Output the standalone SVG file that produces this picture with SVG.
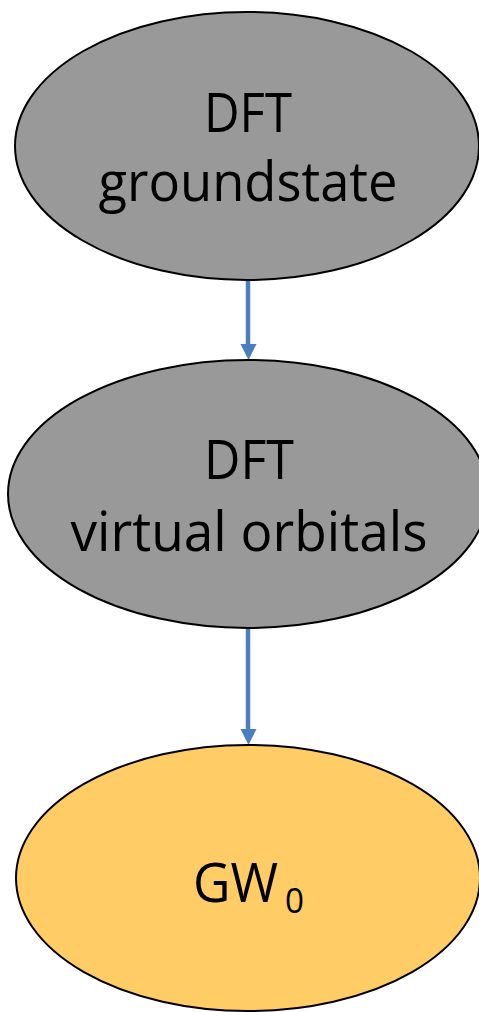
<svg xmlns="http://www.w3.org/2000/svg" width="479" height="1012" viewBox="0 0 479 1012">
<style>
.node{stroke:#000;stroke-width:2}
.gray{fill:#999999}
.gold{fill:#FFCC66}
.lbl{font-family:"Open Sans","Noto Sans",sans-serif;font-size:54px;fill:#000;text-anchor:middle}
.edge{stroke:#4A7EBF;stroke-width:4.5;fill:none}
.head{fill:#4A7EBF}
</style>
<rect width="479" height="1012" fill="#fff"/>
<g id="connectors">
<line class="edge" x1="248" y1="281" x2="248" y2="345"/>
<polygon class="head" points="240.5,344 256.5,344 248.5,360"/>
<line class="edge" x1="248" y1="629" x2="248" y2="730"/>
<polygon class="head" points="240.5,729 256.5,729 248.5,745"/>
</g>
<g id="node-dft-groundstate">
<ellipse class="node gray" cx="247" cy="146" rx="232" ry="134"/>
<text class="lbl" x="248" y="132" textLength="88" lengthAdjust="spacingAndGlyphs">DFT</text>
<text class="lbl" x="248" y="201" textLength="299" lengthAdjust="spacingAndGlyphs">groundstate</text>
</g>
<g id="node-dft-virtual">
<ellipse class="node gray" cx="248" cy="494" rx="240" ry="134"/>
<text class="lbl" x="249" y="479" textLength="90" lengthAdjust="spacingAndGlyphs">DFT</text>
<text class="lbl" x="249" y="551" textLength="357" lengthAdjust="spacingAndGlyphs">virtual orbitals</text>
</g>
<g id="node-gw0">
<ellipse class="node gold" cx="248" cy="878" rx="232" ry="133"/>
<text class="lbl" x="235.5" y="902" textLength="85" lengthAdjust="spacingAndGlyphs">GW</text>
<text class="lbl" x="294.5" y="913" style="font-size:34px" textLength="19" lengthAdjust="spacingAndGlyphs">0</text>
</g>
</svg>
